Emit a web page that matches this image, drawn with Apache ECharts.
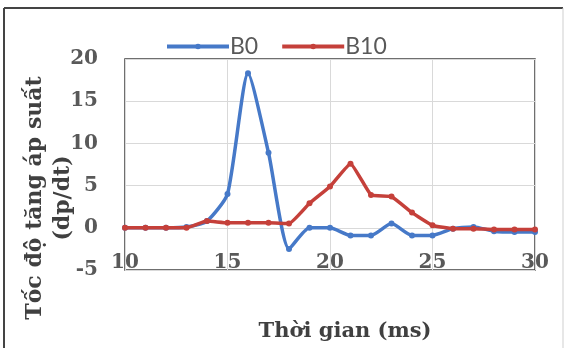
<!DOCTYPE html>
<html>
<head>
<meta charset="utf-8">
<script src="https://cdn.jsdelivr.net/npm/echarts@6/dist/echarts.min.js"></script>
<style>
  html, body { margin: 0; padding: 0; background: #fff; }
  #chart { width: 566px; height: 348px; }
</style>
</head>
<body>
<div id="chart"></div>
<script>
const times = [10, 11, 12, 13, 14, 15, 16, 17, 18, 19, 20, 21, 22, 23, 24, 25, 26, 27, 28, 29, 30]
const b0 = [0, 0, 0, 0.1, 0.8, 4, 18.3, 8.9, -2.5, 0, 0, -0.9, -0.9, 0.5, -0.9, -0.9, -0.1, 0.1, -0.4, -0.5, -0.5]
const b10 = [0, 0, 0, 0, 0.8, 0.6, 0.6, 0.6, 0.5, 2.9, 4.9, 7.6, 3.9, 3.7, 1.8, 0.3, -0.1, -0.1, -0.2, -0.2, -0.2]
const seriesNames = ["B0", "B10"]
const yTitle = "Tốc độ tăng áp suất\n(dp/dt)"
const xTitle = "Thời gian (ms)"

const blue = "#4679c8"
const red = "#c5403a"
const serif = "DejaVu Serif"

const chart = echarts.init(document.getElementById("chart"))

chart.setOption({
  animation: false,
  backgroundColor: "#fff",
  legend: {
    left: 160,
    top: 30,
    itemWidth: 62,
    itemHeight: 7,
    itemGap: 22,
    lineStyle: { width: 4 },
    textStyle: { fontFamily: "Lato", fontSize: 23, color: "#595959", padding: [0, 0, 0, -4] },
    data: seriesNames,
  },
  grid: {
    left: 125, right: 31, top: 59, bottom: 78,
    show: true, borderColor: "#404040", borderWidth: 1.5,
  },
  xAxis: {
    type: "value",
    min: 10, max: 30, interval: 5,
    axisLine: { show: false },
    axisTick: { show: false },
    axisLabel: {
      margin: -17,
      fontFamily: serif, fontWeight: "bold", fontSize: 20, color: "#595959",
      showMinLabel: true, showMaxLabel: true,
    },
    splitLine: { lineStyle: { color: "#d9d9d9", width: 1 } },
  },
  yAxis: {
    type: "value",
    min: -5, max: 20, interval: 5,
    axisLine: { show: false },
    axisTick: { show: false },
    axisLabel: { margin: 27, fontFamily: serif, fontWeight: "bold", fontSize: 20, color: "#595959" },
    splitLine: { lineStyle: { color: "#d9d9d9", width: 1 } },
  },
  graphic: [
    { type: "line", shape: { x1: 4, y1: 8, x2: 563, y2: 8 }, style: { stroke: "#444", lineWidth: 2 } },
    { type: "line", shape: { x1: 4, y1: 8, x2: 4, y2: 348 }, style: { stroke: "#444", lineWidth: 2 } },
    { type: "line", shape: { x1: 563, y1: 8, x2: 563, y2: 348 }, style: { stroke: "#cfcfcf", lineWidth: 1 } },
    {
      type: "text", x: 49, y: 198, rotation: Math.PI / 2,
      style: {
        text: yTitle, fontFamily: serif, fontWeight: "bold", fontSize: 22, lineHeight: 28,
        fill: "#404040", align: "center", verticalAlign: "middle",
      },
    },
    {
      type: "text", x: 345, y: 332,
      style: {
        text: xTitle, fontFamily: serif, fontWeight: "bold", fontSize: 21,
        fill: "#404040", align: "center", verticalAlign: "middle",
      },
    },
  ],
  series: [
    {
      name: seriesNames[0],
      type: "line",
      data: times.map((t, i) => [t, b0[i]]),
      smooth: 0.2,
      symbol: "circle",
      symbolSize: 6,
      itemStyle: { color: blue },
      lineStyle: { color: blue, width: 3.5 },
      z: 2,
    },
    {
      name: seriesNames[1],
      type: "line",
      data: times.map((t, i) => [t, b10[i]]),
      smooth: 0.12,
      symbol: "circle",
      symbolSize: 6,
      itemStyle: { color: red },
      lineStyle: { color: red, width: 3.5 },
      z: 3,
    },
  ],
})
</script>
</body>
</html>
